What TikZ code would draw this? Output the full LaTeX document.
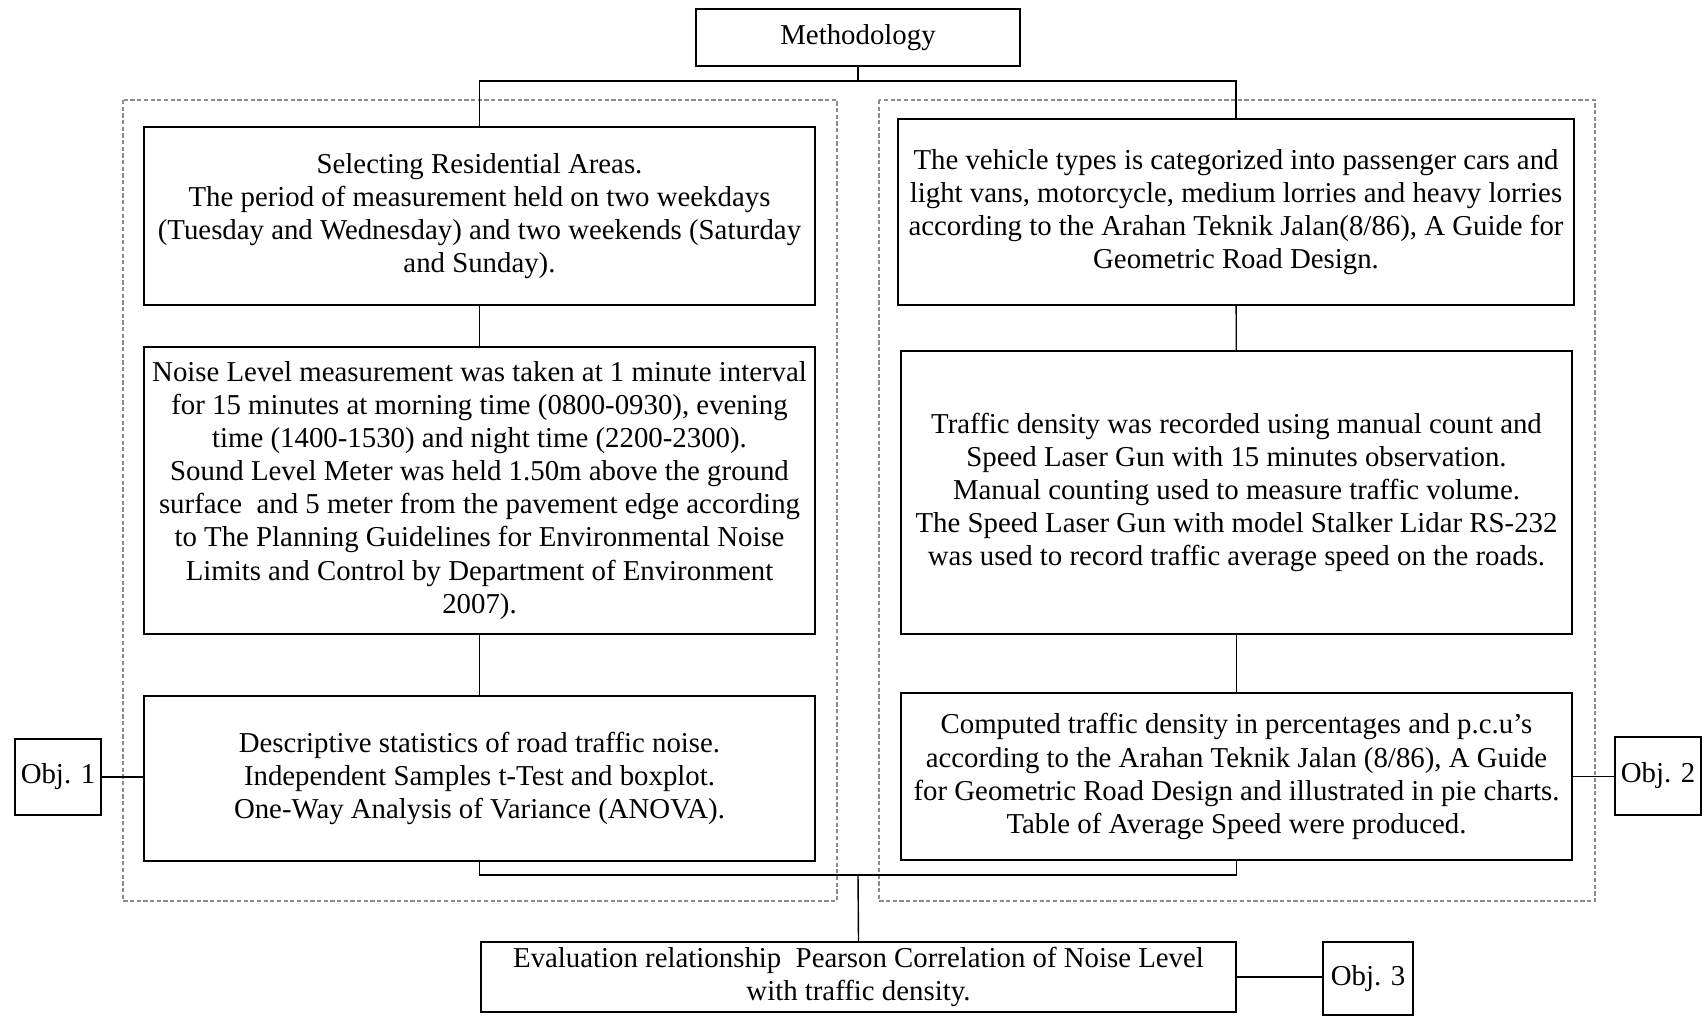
\documentclass[tikz,border=0pt]{standalone}
\usepackage{fontspec}
\setmainfont{Liberation Serif}
\newcommand{\framecolor}{gray!90}
\tikzset{every path/.style={line width=0.4pt}}
\tikzset{stepbox/.style={draw, align=center, inner sep=1pt, font=\fontsize{8.2pt}{9.4pt}\selectfont}}
\tikzset{groupframe/.style={draw=\framecolor, dash pattern=on 1.2pt off 0.7pt}}

\begin{document}
\begin{tikzpicture}[x=0.1mm,y=-0.1mm]
\useasboundingbox (0,0) rectangle (1702,1016);
\draw[groupframe] (123,100) rectangle (837,901);
\draw[groupframe] (879,100) rectangle (1595,901);
\node[stepbox, minimum width=32.4mm, minimum height=5.7mm] (meth) at (858,37.5) {Methodology};
\node[stepbox, minimum width=67.1mm, minimum height=17.8mm] (sel) at (479.5,216) {Selecting Residential Areas.\\ The period of measurement held on two weekdays\\ (Tuesday and Wednesday) and two weekends (Saturday\\ and Sunday).};
\node[stepbox, minimum width=67.1mm, minimum height=28.7mm] (noise) at (479.5,490.5) {Noise Level measurement was taken at 1 minute interval\\ for 15 minutes at morning time (0800-0930), evening\\ time (1400-1530) and night time (2200-2300).\\ Sound Level Meter was held 1.50m above the ground\\ surface\ \ and 5 meter from the pavement edge according\\ to The Planning Guidelines for Environmental Noise\\ Limits and Control by Department of Environment\\ 2007).};
\node[stepbox, minimum width=67.1mm, minimum height=16.5mm] (desc) at (479.5,778.5) {Descriptive statistics of road traffic noise.\\ Independent Samples t-Test and boxplot.\\ One-Way Analysis of Variance (ANOVA).};
\node[stepbox, minimum width=67.6mm, minimum height=18.6mm] (veh) at (1236,212) {The vehicle types is categorized into passenger cars and\\ light vans, motorcycle, medium lorries and heavy lorries\\ according to the Arahan Teknik Jalan(8/86), A Guide for\\ Geometric Road Design.};
\node[stepbox, minimum width=67.1mm, minimum height=28.3mm] (dens) at (1236.5,492.5) {Traffic density was recorded using manual count and\\ Speed Laser Gun with 15 minutes observation.\\ Manual counting used to measure traffic volume.\\ The Speed Laser Gun with model Stalker Lidar RS-232\\ was used to record traffic average speed on the roads.};
\node[stepbox, minimum width=67.1mm, minimum height=16.7mm] (comp) at (1236.5,776.5) {Computed traffic density in percentages and p.c.u’s\\ according to the Arahan Teknik Jalan (8/86), A Guide\\ for Geometric Road Design and illustrated in pie charts.\\ Table of Average Speed were produced.};
\node[stepbox, minimum width=75.5mm, minimum height=7.0mm] (eval) at (858.5,977) {Evaluation relationship\ \ Pearson Correlation of Noise Level\\ with traffic density.};
\node[stepbox, minimum width=8.6mm, minimum height=7.6mm] (obj1) at (58,777) {Obj. 1};
\node[stepbox, minimum width=8.6mm, minimum height=7.8mm] (obj2) at (1658,776) {Obj. 2};
\node[stepbox, minimum width=9.0mm, minimum height=7.3mm] (obj3) at (1368,978.5) {Obj. 3};
\coordinate (split) at (858,81);
\coordinate (join) at (858,875);
\draw (meth.south) -- (split);
\draw (sel.north) |- (split) -| (veh.north);
\draw (sel) -- (noise);
\draw (noise) -- (desc);
\draw (veh) -- (dens);
\draw (dens) -- (comp);
\draw (desc.south) |- (join) -| (comp.south);
\draw (join) -- (eval.north);
\draw (obj1.east) -- (obj1.east -| desc.west);
\draw (comp.east) -- (comp.east -| obj2.west);
\draw (eval.east) -- (eval.east -| obj3.west);
\end{tikzpicture}
\end{document}
